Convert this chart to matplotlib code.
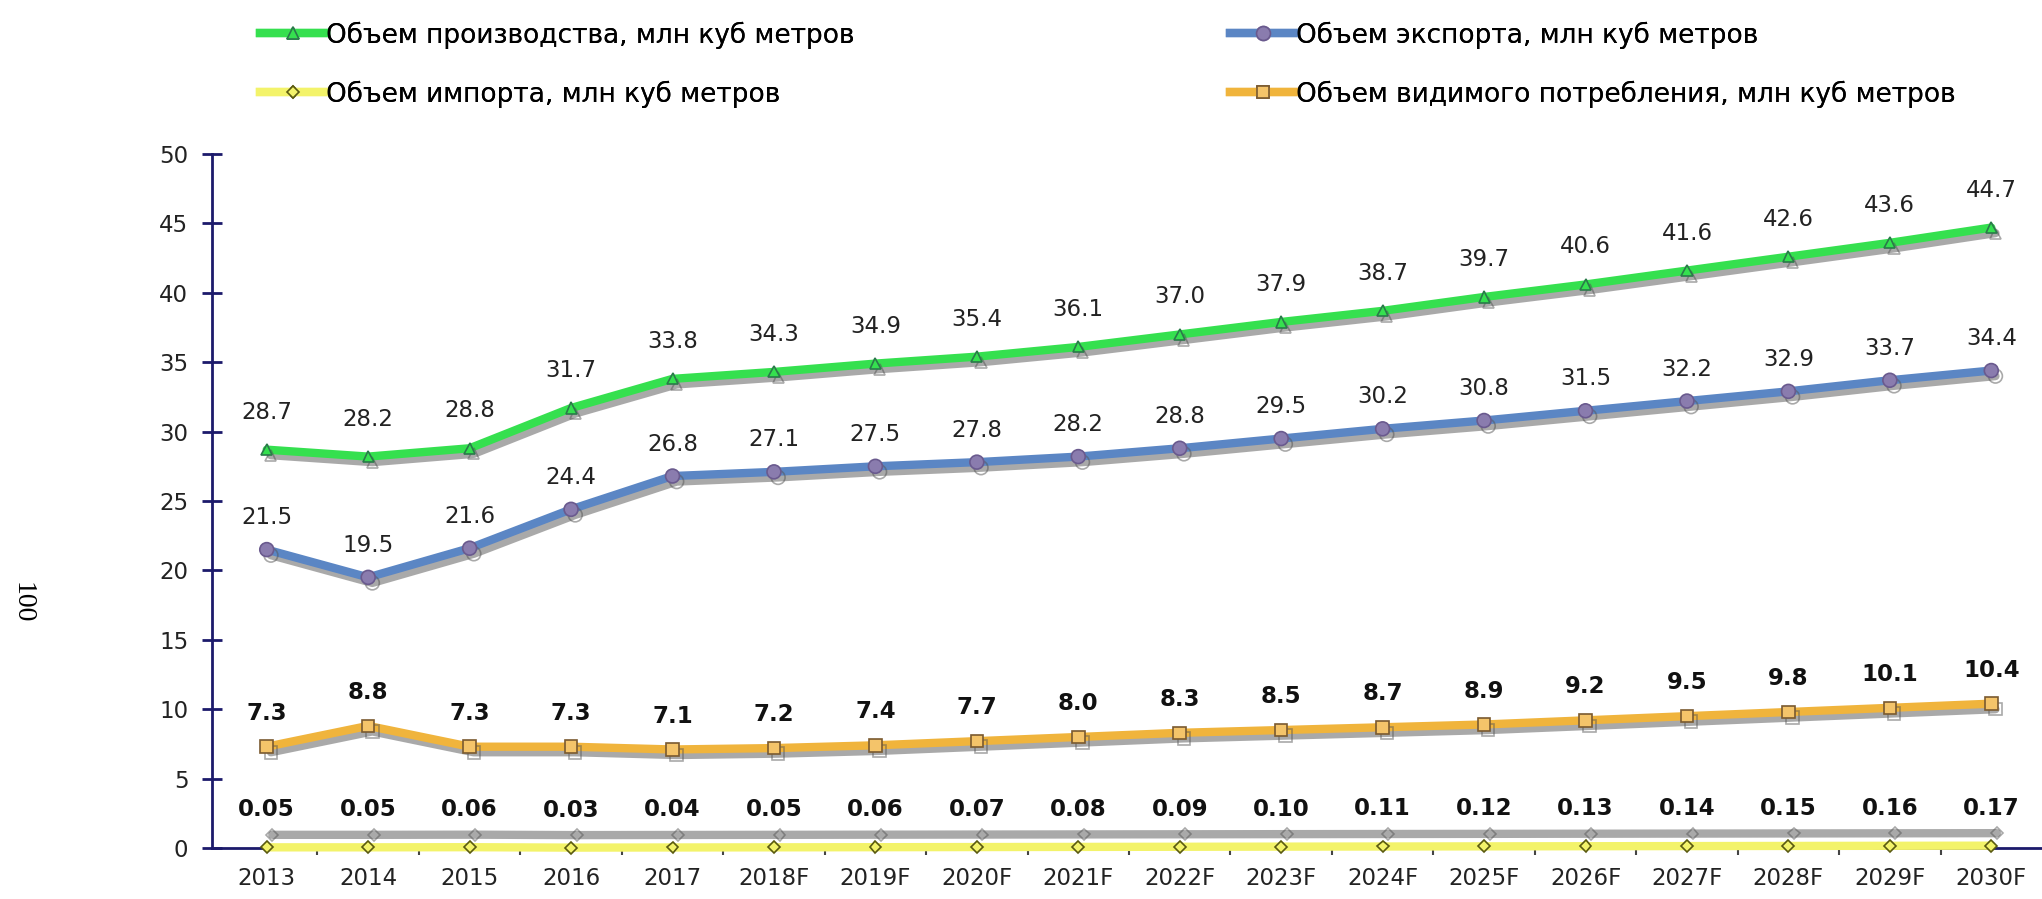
import matplotlib
matplotlib.use("Agg")
import matplotlib.pyplot as plt
import matplotlib.patheffects as pe
from matplotlib.lines import Line2D
from matplotlib.ticker import FixedLocator, MultipleLocator
import numpy as np

# --- data ---
years = ["2013", "2014", "2015", "2016", "2017", "2018F", "2019F", "2020F", "2021F",
         "2022F", "2023F", "2024F", "2025F", "2026F", "2027F", "2028F", "2029F", "2030F"]
production = [28.7, 28.2, 28.8, 31.7, 33.8, 34.3, 34.9, 35.4, 36.1,
              37.0, 37.9, 38.7, 39.7, 40.6, 41.6, 42.6, 43.6, 44.7]
export = [21.5, 19.5, 21.6, 24.4, 26.8, 27.1, 27.5, 27.8, 28.2,
          28.8, 29.5, 30.2, 30.8, 31.5, 32.2, 32.9, 33.7, 34.4]
imports = [0.05, 0.05, 0.06, 0.03, 0.04, 0.05, 0.06, 0.07, 0.08,
           0.09, 0.10, 0.11, 0.12, 0.13, 0.14, 0.15, 0.16, 0.17]
consumption = [7.3, 8.8, 7.3, 7.3, 7.1, 7.2, 7.4, 7.7, 8.0,
               8.3, 8.5, 8.7, 8.9, 9.2, 9.5, 9.8, 10.1, 10.4]

lbl_production = "Объем производства, млн куб метров"
lbl_export = "Объем экспорта, млн куб метров"
lbl_import = "Объем импорта, млн куб метров"
lbl_consumption = "Объем видимого потребления, млн куб метров"

plt.rcParams['font.family'] = ['DejaVu Sans']
navy = "#1c1a6b"

fig = plt.figure(figsize=(20.42, 8.99), dpi=100)
ax = fig.add_axes([0.1038, 0.0567, 0.8962, 0.772])

x = np.arange(len(years))


def shadow(dx=3, dy=-4):
    return [pe.SimpleLineShadow(offset=(dx, dy), shadow_color="#555555", alpha=0.5),
            pe.Normal()]


styles = {
    "prod": dict(color="#35e04f", lw=6, marker="^", ms=8, mfc="#35e04f",
                 mec="#2a7a4a", mew=1.2),
    "exp": dict(color="#5b86c4", lw=6, marker="o", ms=10, mfc="#8a7cae",
                mec="#6a5a8e", mew=1.2),
    "imp": dict(color="#f3f36a", lw=6, marker="D", ms=6, mfc="#f3f36a",
                mec="#5a5a10", mew=1.2),
    "cons": dict(color="#f0b43c", lw=6, marker="s", ms=9, mfc="#f4c46a",
                 mec="#7a5a30", mew=1.2),
}

ax.plot(x, production, solid_capstyle="round", path_effects=shadow(), zorder=4,
        **styles["prod"])
ax.plot(x, export, solid_capstyle="round", path_effects=shadow(), zorder=4,
        **styles["exp"])
ax.plot(x, imports, solid_capstyle="round", path_effects=shadow(4, 9), zorder=4,
        clip_on=False, **styles["imp"])
ax.plot(x, consumption, solid_capstyle="round", path_effects=shadow(), zorder=4,
        **styles["cons"])

# data labels
label_kw = dict(textcoords="offset points", ha="center", va="center", fontsize=16.5)
for xi, v in zip(x, production):
    ax.annotate(f"{v:.1f}", (xi, v), xytext=(0, 27), color="#222222", **label_kw)
for xi, v in zip(x, export):
    ax.annotate(f"{v:.1f}", (xi, v), xytext=(0, 23), color="#222222", **label_kw)
for xi, v in zip(x, consumption):
    ax.annotate(f"{v:.1f}", (xi, v), xytext=(0, 24), color="#111111",
                fontweight="bold", **label_kw)
for xi, v in zip(x, imports):
    ax.annotate(f"{v:.2f}", (xi, v), xytext=(0, 27), color="#111111",
                fontweight="bold", **label_kw)

# axes styling
ax.set_xlim(-0.54, 17.5)
ax.set_ylim(0, 50)
ax.set_xticks(x)
ax.set_xticklabels(years)
ax.xaxis.set_minor_locator(FixedLocator(x[:-1] + 0.5))
ax.yaxis.set_major_locator(MultipleLocator(5))
for s in ["top", "right"]:
    ax.spines[s].set_visible(False)
ax.spines["left"].set_color(navy)
ax.spines["left"].set_linewidth(2)
ax.spines["bottom"].set_color(navy)
ax.spines["bottom"].set_linewidth(2)
ax.tick_params(axis="y", direction="inout", length=14, width=2, color=navy,
               labelsize=16.5, pad=10, labelcolor="#222222")
ax.tick_params(axis="x", which="major", length=0, labelsize=16.5, pad=14,
               labelcolor="#222222")
ax.tick_params(axis="x", which="minor", direction="out", length=5, width=1.5,
               color="#444444")

# legend, one entry per slot (2 x 2 grid)
entries = [("prod", lbl_production, 0.1273, 0.961),
           ("exp", lbl_export, 0.6024, 0.961),
           ("imp", lbl_import, 0.1273, 0.8954),
           ("cons", lbl_consumption, 0.6024, 0.8954)]
for key, text, lx, ly in entries:
    handle = Line2D([], [], **styles[key])
    leg = fig.legend([handle], [text], loc="center left", bbox_to_anchor=(lx, ly),
                     frameon=False, fontsize=19, handlelength=2.5, handletextpad=0.0,
                     borderpad=0, borderaxespad=0)
    fig.add_artist(leg)

# page number at left margin
fig.text(0.011, 0.33, "100", family="Liberation Serif", fontsize=20, rotation=-90,
         ha="center", va="center")

fig.savefig("out.png", dpi=100)
